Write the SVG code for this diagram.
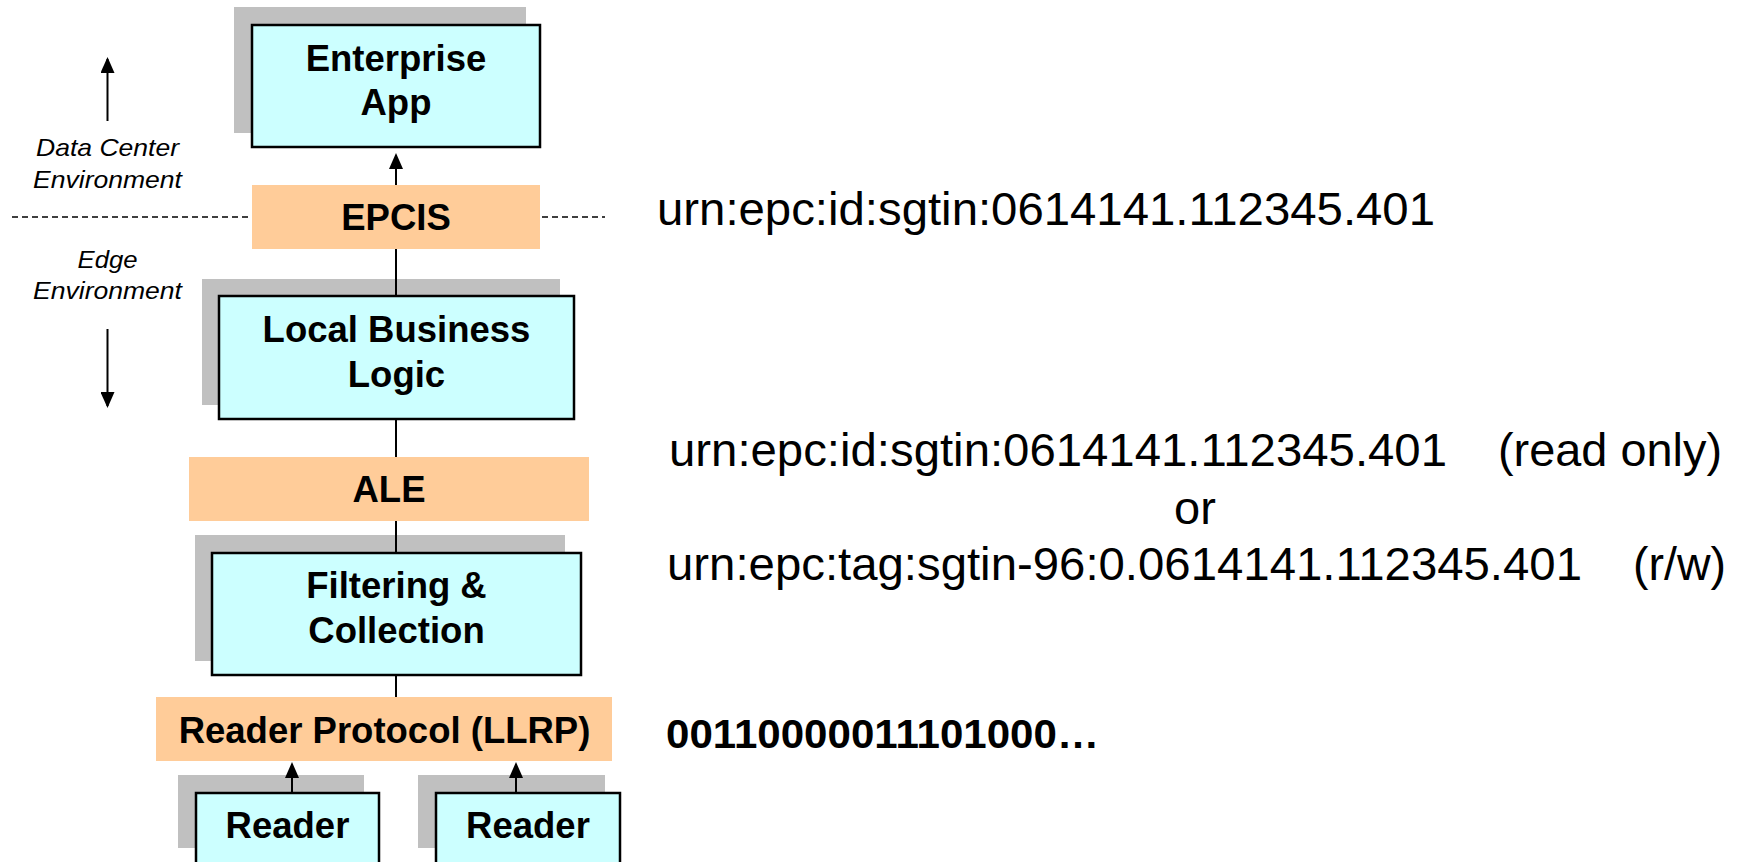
<svg xmlns="http://www.w3.org/2000/svg" width="1741" height="862" viewBox="0 0 1741 862">
<style>
.sh{fill:#C0C0C0}
.box{fill:#CCFFFF;stroke:#000;stroke-width:2.5}
.api{fill:#FFCC99}
.lbl{font-family:"Liberation Sans",Arial,sans-serif;font-weight:bold;font-size:36.5px;fill:#000;text-anchor:middle}
.env{font-family:"Liberation Sans",Arial,sans-serif;font-style:italic;font-size:24px;fill:#000;text-anchor:middle}
.urn{font-family:"Liberation Sans",Arial,sans-serif;font-size:47px;fill:#000}
.bin{font-family:"Liberation Sans",Arial,sans-serif;font-weight:bold;font-size:41.5px;fill:#000}
.ln{stroke:#000;stroke-width:2;fill:none}
.dash{stroke:#000;stroke-width:1.5;stroke-dasharray:6 4;fill:none}
</style>
<defs>
<marker id="ah" markerUnits="userSpaceOnUse" markerWidth="16" markerHeight="14" viewBox="0 0 16 14" refX="14" refY="7" orient="auto">
<path d="M0,0 L16,7 L0,14 z" fill="#000"/>
</marker>
</defs>
<rect width="1741" height="862" fill="#fff"/>

<g id="boundary">
<line class="dash" x1="12" y1="217" x2="605" y2="217"/>
</g>

<g id="env-labels">
<line class="ln" x1="107.5" y1="121" x2="107.5" y2="59" marker-end="url(#ah)"/>
<text class="env" x="107.5" y="156" textLength="143" lengthAdjust="spacingAndGlyphs">Data Center</text>
<text class="env" x="107.5" y="188" textLength="149" lengthAdjust="spacingAndGlyphs">Environment</text>
<text class="env" x="107.5" y="268" textLength="60" lengthAdjust="spacingAndGlyphs">Edge</text>
<text class="env" x="107.5" y="299" textLength="149" lengthAdjust="spacingAndGlyphs">Environment</text>
<line class="ln" x1="107.5" y1="329" x2="107.5" y2="406" marker-end="url(#ah)"/>
</g>

<g id="connectors">
<line class="ln" x1="396" y1="185" x2="396" y2="155" marker-end="url(#ah)"/>
<line class="ln" x1="396" y1="249" x2="396" y2="296"/>
<line class="ln" x1="396" y1="419" x2="396" y2="457"/>
<line class="ln" x1="396" y1="521" x2="396" y2="553"/>
<line class="ln" x1="396" y1="675" x2="396" y2="697"/>
</g>

<g id="enterprise-app">
<rect class="sh" x="234" y="7" width="292" height="126"/>
<rect class="box" x="252" y="25" width="288" height="122"/>
<text class="lbl" x="396" y="71">Enterprise</text>
<text class="lbl" x="396" y="115">App</text>
</g>

<g id="epcis">
<rect class="api" x="252" y="185" width="288" height="64"/>
<text class="lbl" x="396" y="230">EPCIS</text>
</g>

<g id="local-business-logic">
<rect class="sh" x="202" y="279" width="358" height="126"/>
<line class="ln" x1="396" y1="279" x2="396" y2="296"/>
<rect class="box" x="219" y="296" width="355" height="123"/>
<text class="lbl" x="396.5" y="342">Local Business</text>
<text class="lbl" x="396.5" y="387">Logic</text>
</g>

<g id="ale">
<rect class="api" x="189" y="457" width="400" height="64"/>
<text class="lbl" x="389" y="502">ALE</text>
</g>

<g id="filtering-collection">
<rect class="sh" x="195" y="535" width="370" height="126"/>
<line class="ln" x1="396" y1="535" x2="396" y2="553"/>
<rect class="box" x="212" y="553" width="369" height="122"/>
<text class="lbl" x="396.5" y="598">Filtering &amp;</text>
<text class="lbl" x="396.5" y="643">Collection</text>
</g>

<g id="reader-protocol">
<rect class="api" x="156" y="697" width="456" height="64"/>
<text class="lbl" x="384.5" y="743">Reader Protocol (LLRP)</text>
</g>

<g id="reader-1">
<rect class="sh" x="178" y="775" width="186" height="73"/>
<line class="ln" x1="292" y1="793" x2="292" y2="764" marker-end="url(#ah)"/>
<rect class="box" x="196" y="793" width="183" height="80"/>
<text class="lbl" x="287.5" y="838">Reader</text>
</g>

<g id="reader-2">
<rect class="sh" x="418" y="775" width="187" height="73"/>
<line class="ln" x1="516" y1="793" x2="516" y2="764" marker-end="url(#ah)"/>
<rect class="box" x="436" y="793" width="184" height="80"/>
<text class="lbl" x="528" y="838">Reader</text>
</g>

<g id="annotations">
<text class="urn" x="657" y="225" textLength="778" lengthAdjust="spacingAndGlyphs">urn:epc:id:sgtin:0614141.112345.401</text>
<text class="urn" x="669" y="466" textLength="778" lengthAdjust="spacingAndGlyphs">urn:epc:id:sgtin:0614141.112345.401</text>
<text class="urn" x="1498" y="466" textLength="224" lengthAdjust="spacingAndGlyphs">(read only)</text>
<text class="urn" x="1195" y="524" text-anchor="middle">or</text>
<text class="urn" x="667" y="580" textLength="915" lengthAdjust="spacingAndGlyphs">urn:epc:tag:sgtin-96:0.0614141.112345.401</text>
<text class="urn" x="1633" y="580" textLength="93" lengthAdjust="spacingAndGlyphs">(r/w)</text>
<text class="bin" x="666" y="748" textLength="433" lengthAdjust="spacingAndGlyphs">00110000011101000…</text>
</g>
</svg>
